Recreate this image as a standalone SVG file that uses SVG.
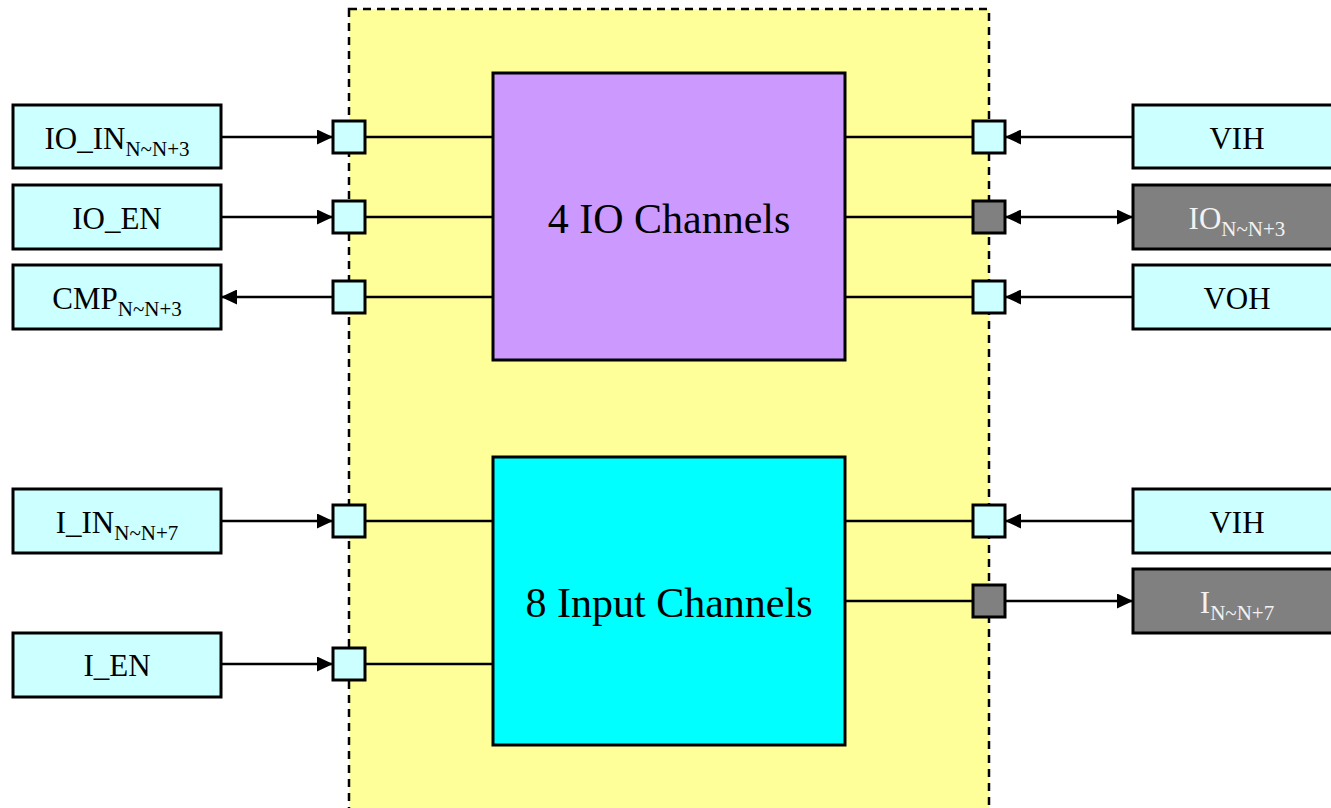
<svg xmlns="http://www.w3.org/2000/svg" width="1331" height="808" viewBox="0 0 1331 808">
<style>
.sig{fill:#ccffff;stroke:#000;stroke-width:3}
.out{fill:#808080;stroke:#000;stroke-width:3}
.port{fill:#ccffff;stroke:#000;stroke-width:3}
.portd{fill:#808080;stroke:#000;stroke-width:3}
.lbl{font-family:"Liberation Serif","Times New Roman",serif;font-size:31px;fill:#000;text-anchor:middle}
.lblw{font-family:"Liberation Serif","Times New Roman",serif;font-size:31px;fill:#f2f2f2;text-anchor:middle}
.sub{font-size:21px}
.big{font-family:"Liberation Serif","Times New Roman",serif;font-size:42px;fill:#000;text-anchor:middle}
.wire{stroke:#000;stroke-width:2.5;fill:none}
.arr{stroke:#000;stroke-width:2.5;fill:none;marker-end:url(#ah)}
.arr2{stroke:#000;stroke-width:2.5;fill:none;marker-end:url(#ah);marker-start:url(#ah)}
</style>
<defs>
<marker id="ah" markerUnits="userSpaceOnUse" markerWidth="16" markerHeight="15" refX="16" refY="7.5" orient="auto-start-reverse">
<path d="M0,0 L16,7.5 L0,15 z" fill="#000"/>
</marker>
</defs>
<rect width="1331" height="808" fill="#fff"/>
<g id="container">
<rect x="349" y="9" width="640" height="820" fill="#ffff99" stroke="#000" stroke-width="2.5" stroke-dasharray="8,6"/>
</g>
<g id="connectors">
<line class="wire" x1="365" y1="137" x2="493" y2="137"/>
<line class="wire" x1="365" y1="217" x2="493" y2="217"/>
<line class="wire" x1="365" y1="297" x2="493" y2="297"/>
<line class="wire" x1="845" y1="137" x2="973" y2="137"/>
<line class="wire" x1="845" y1="217" x2="973" y2="217"/>
<line class="wire" x1="845" y1="297" x2="973" y2="297"/>
<line class="wire" x1="365" y1="521" x2="493" y2="521"/>
<line class="wire" x1="365" y1="664" x2="493" y2="664"/>
<line class="wire" x1="845" y1="521" x2="973" y2="521"/>
<line class="wire" x1="845" y1="601" x2="973" y2="601"/>
<line class="arr" x1="221" y1="137" x2="333" y2="137"/>
<line class="arr" x1="221" y1="217" x2="333" y2="217"/>
<line class="arr" x1="333" y1="297" x2="221" y2="297"/>
<line class="arr" x1="221" y1="521" x2="333" y2="521"/>
<line class="arr" x1="221" y1="664" x2="333" y2="664"/>
<line class="arr" x1="1133" y1="137" x2="1005" y2="137"/>
<line class="arr2" x1="1005" y1="217" x2="1133" y2="217"/>
<line class="arr" x1="1133" y1="297" x2="1005" y2="297"/>
<line class="arr" x1="1133" y1="521" x2="1005" y2="521"/>
<line class="arr" x1="1005" y1="601" x2="1133" y2="601"/>
</g>
<g id="io-channels">
<rect x="493" y="73" width="352" height="287" fill="#cc99ff" stroke="#000" stroke-width="3"/>
<text class="big" x="669" y="233">4 IO Channels</text>
</g>
<g id="input-channels">
<rect x="493" y="457" width="352" height="288" fill="#00ffff" stroke="#000" stroke-width="3"/>
<text class="big" x="669" y="617">8 Input Channels</text>
</g>
<g id="ports">
<rect class="port" x="333" y="121" width="32" height="32"/>
<rect class="port" x="333" y="201" width="32" height="32"/>
<rect class="port" x="333" y="281" width="32" height="32"/>
<rect class="port" x="333" y="505" width="32" height="32"/>
<rect class="port" x="333" y="648" width="32" height="32"/>
<rect class="port" x="973" y="121" width="32" height="32"/>
<rect class="portd" x="973" y="201" width="32" height="32"/>
<rect class="port" x="973" y="281" width="32" height="32"/>
<rect class="port" x="973" y="505" width="32" height="32"/>
<rect class="portd" x="973" y="585" width="32" height="32"/>
</g>
<g id="io-in">
<rect class="sig" x="13" y="105" width="208" height="63"/>
<text class="lbl" x="117" y="149">IO_IN<tspan class="sub" dy="7">N~N+3</tspan></text>
</g>
<g id="io-en">
<rect class="sig" x="13" y="185" width="208" height="64"/>
<text class="lbl" x="117" y="229">IO_EN</text>
</g>
<g id="cmp">
<rect class="sig" x="13" y="265" width="208" height="64"/>
<text class="lbl" x="117" y="309">CMP<tspan class="sub" dy="7">N~N+3</tspan></text>
</g>
<g id="i-in">
<rect class="sig" x="13" y="489" width="208" height="64"/>
<text class="lbl" x="117" y="533">I_IN<tspan class="sub" dy="7">N~N+7</tspan></text>
</g>
<g id="i-en">
<rect class="sig" x="13" y="633" width="208" height="64"/>
<text class="lbl" x="117" y="676">I_EN</text>
</g>
<g id="vih-top">
<rect class="sig" x="1133" y="105" width="210" height="63"/>
<text class="lbl" x="1237" y="149">VIH</text>
</g>
<g id="io-out">
<rect class="out" x="1133" y="185" width="210" height="64"/>
<text class="lblw" x="1237" y="229">IO<tspan class="sub" dy="7">N~N+3</tspan></text>
</g>
<g id="voh">
<rect class="sig" x="1133" y="265" width="210" height="64"/>
<text class="lbl" x="1237" y="309">VOH</text>
</g>
<g id="vih-bottom">
<rect class="sig" x="1133" y="489" width="210" height="64"/>
<text class="lbl" x="1237" y="533">VIH</text>
</g>
<g id="i-out">
<rect class="out" x="1133" y="569" width="210" height="64"/>
<text class="lblw" x="1237" y="613">I<tspan class="sub" dy="7">N~N+7</tspan></text>
</g>
</svg>
